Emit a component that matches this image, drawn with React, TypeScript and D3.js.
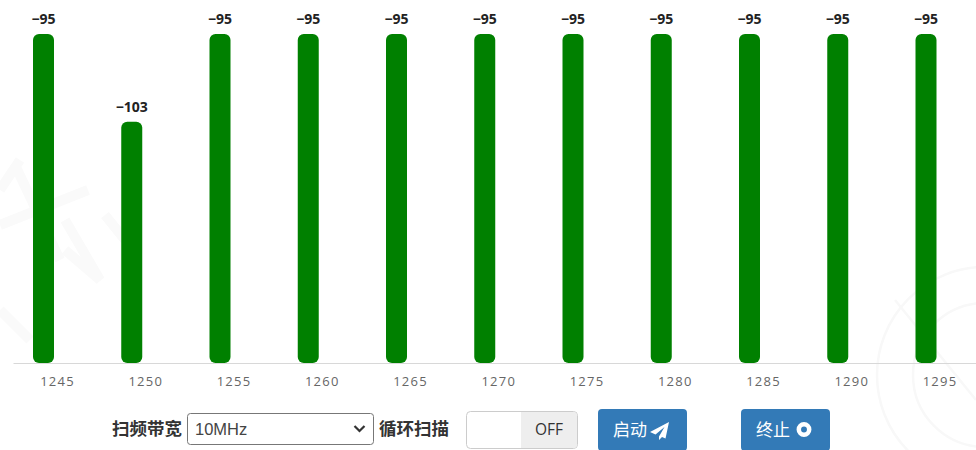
import React, { useEffect, useRef } from 'react';
import * as d3 from 'd3';

const frequencies = [1245, 1250, 1255, 1260, 1265, 1270, 1275, 1280, 1285, 1290, 1295];
const levels = [-95, -103, -95, -95, -95, -95, -95, -95, -95, -95, -95];
const bandwidthLabel = '扫频带宽';
const bandwidthValue = '10MHz';
const loopLabel = '循环扫描';
const startLabel = '启动';
const stopLabel = '终止';

const width = 976;
const height = 450;
const cjk = '"Noto Sans CJK SC", sans-serif';
const latin = '"Liberation Sans", Arial, sans-serif';

export default function App() {
	const node = useRef<SVGSVGElement>(null);

	useEffect(() => {
		const svg = d3.select(node.current);
		svg.selectAll('*').remove();

		// faint watermark behind the chart
		const mark = svg.append('g').attr('fill', 'none').attr('stroke', '#f8f8f8').attr('stroke-width', 2.5);
		[108, 72].forEach(r => mark.append('circle').attr('cx', 985).attr('cy', 375).attr('r', r));
		mark.append('path').attr('d', 'M895 300L976 400');
		svg.append('path')
			.attr('d', 'M0 190L20 160M0 225L88 190M15 165L60 260M65 220L100 280L65 250M105 215L125 240M0 310L30 340')
			.attr('fill', 'none')
			.attr('stroke', '#fafafa')
			.attr('stroke-width', 10);

		const x = d3.scalePoint<number>().domain(frequencies).range([43.5, 926]);
		const y = d3.scaleLinear().domain([-125, -95]).range([363, 34]);
		const barWidth = 21;

		const bars = svg.append('g');
		bars.selectAll('rect')
			.data(frequencies)
			.enter()
			.append('rect')
			.attr('x', d => x(d)! - barWidth / 2)
			.attr('y', (d, i) => y(levels[i]))
			.attr('width', barWidth)
			.attr('height', (d, i) => y(-125) - y(levels[i]))
			.attr('rx', 6)
			.attr('fill', '#008000');

		bars.selectAll('text')
			.data(frequencies)
			.enter()
			.append('text')
			.attr('x', d => x(d)!)
			.attr('y', (d, i) => y(levels[i]) - 10)
			.attr('text-anchor', 'middle')
			.attr('font-family', '"Open Sans", sans-serif')
			.attr('font-size', 14)
			.attr('font-weight', 700)
			.attr('fill', '#222')
			.text((d, i) => String(levels[i]).replace('-', '\u2212'));

		// x axis, its labels sit a little right of the bars
		const axis = svg.append('g').attr('transform', 'translate(0,363.5)');
		axis.call(d3.axisBottom(x).tickSize(0).tickPadding(13));
		axis.select('.domain').attr('d', 'M13.5,0H976').attr('stroke', '#d8d8d8');
		axis.selectAll('text')
			.attr('dx', 13.5)
			.attr('font-family', '"Open Sans", sans-serif')
			.attr('font-size', 13)
			.attr('letter-spacing', 1.2)
			.attr('fill', '#666');

		// controls below the chart
		const controls = svg.append('g');
		const label = (tx: number, text: string) =>
			controls.append('text')
				.attr('x', tx)
				.attr('y', 435)
				.attr('font-family', cjk)
				.attr('font-size', 17.5)
				.attr('font-weight', 700)
				.attr('fill', '#333')
				.text(text);
		label(112, bandwidthLabel);
		label(379, loopLabel);

		controls.append('rect')
			.attr('x', 187.5).attr('y', 413.5).attr('width', 186).attr('height', 31).attr('rx', 3)
			.attr('fill', '#fff').attr('stroke', '#777');
		controls.append('text')
			.attr('x', 195).attr('y', 435)
			.attr('font-family', latin).attr('font-size', 16.5).attr('fill', '#444')
			.text(bandwidthValue);
		controls.append('path')
			.attr('d', 'M354.5 426L359.5 431L364.5 426')
			.attr('fill', 'none').attr('stroke', '#333').attr('stroke-width', 2.2);

		// toggle switch in its off position
		controls.append('rect')
			.attr('x', 466.5).attr('y', 411.5).attr('width', 111).attr('height', 37).attr('rx', 4)
			.attr('fill', '#fff').attr('stroke', '#ccc');
		controls.append('path')
			.attr('d', 'M521 412H573.5a3.5 3.5 0 0 1 3.5 3.5V444.5a3.5 3.5 0 0 1 -3.5 3.5H521Z')
			.attr('fill', '#eee');
		controls.append('text')
			.attr('x', 549).attr('y', 435).attr('text-anchor', 'middle')
			.attr('font-family', '"Open Sans", sans-serif').attr('font-size', 15.5).attr('fill', '#333')
			.text('OFF');

		const button = (bx: number, text: string) => {
			controls.append('rect')
				.attr('x', bx).attr('y', 409).attr('width', 89).attr('height', 42).attr('rx', 4)
				.attr('fill', '#337ab7');
			controls.append('text')
				.attr('x', bx + 15).attr('y', 436)
				.attr('font-family', cjk).attr('font-size', 17).attr('fill', '#fff')
				.text(text);
		};
		button(598, startLabel);
		button(741, stopLabel);

		// paper plane and stop icons
		controls.append('path')
			.attr('d', 'M669 422L650 432L655.5 434.5L664.5 427L659 436.5V440L662 437L665.5 438.5Z')
			.attr('fill', '#fff');
		controls.append('circle')
			.attr('cx', 804).attr('cy', 429.5).attr('r', 5.2)
			.attr('fill', '#337ab7').attr('stroke', '#fff').attr('stroke-width', 4.5);
	}, []);

	return (
		<svg
			ref={node}
			width={width}
			height={height}
			style={{ position: 'absolute', left: 0, top: 0, background: '#fff' }}
		/>
	);
}
